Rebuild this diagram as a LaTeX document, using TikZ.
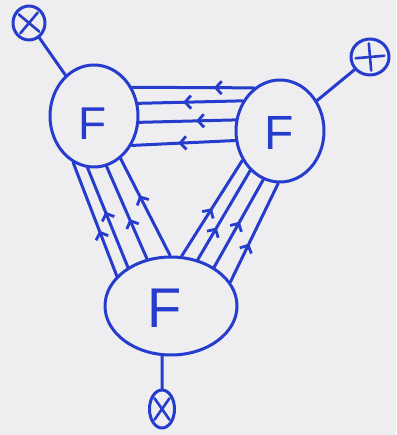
\documentclass[tikz,border=0pt]{standalone}
\usepackage{fontspec}
\setmainfont{Liberation Sans}
\usetikzlibrary{shapes.geometric,arrows.meta,decorations.markings,calc}
\definecolor{ink}{RGB}{38,60,205}
\definecolor{paper}{RGB}{238,238,241}
\begin{document}
\begin{tikzpicture}[x=1pt,y=-1pt,
  inkline/.style={draw=ink, line width=3pt, line cap=round, line join=round},
  fblob/.style={ellipse, inkline, inner sep=0pt},
  ftext/.style={text=ink, inner sep=0pt},
  xblob/.style={ellipse, inkline, inner sep=0pt},
  wire/.style={inkline},
  crossline/.style={draw=ink, line width=2.6pt, line cap=round},
  flow/.style={inkline, postaction={decorate, decoration={markings, mark=at position #1 with {\arrow{Straight Barb[color=ink,length=6pt,width=13pt,line width=2.8pt]}}}}},
]
\fill[paper] (0,0) rectangle (396,435);
\useasboundingbox (0,0) rectangle (396,435);

% main blobs
\node[fblob, minimum width=88pt, minimum height=102pt] (A) at (94,116) {};
\node[fblob, minimum width=88pt, minimum height=102pt] (B) at (280,131) {};
\node[fblob, minimum width=132pt, minimum height=98pt] (C) at (171,306) {};

\node[ftext, font=\fontsize{46}{46}\selectfont] (FA) at (93,124) {F};
\node[ftext, font=\fontsize{48}{48}\selectfont] (FB) at (279,133) {F};
\node[ftext, font=\fontsize{56}{56}\selectfont] (FC) at (165,308) {F};

% external legs
\node[xblob, minimum width=32pt, minimum height=34pt] (P1) at (29,23) {};
\node[xblob, minimum width=38pt, minimum height=36pt] (P2) at (370,57) {};
\node[xblob, minimum width=25pt, minimum height=38pt] (P3) at (162,409) {};

\draw[crossline] ($(P1.center)!0.75!(P1.50)$) -- ($(P1.center)!0.75!(P1.230)$);
\draw[crossline] ($(P1.center)!0.75!(P1.140)$) -- ($(P1.center)!0.75!(P1.320)$);
\draw[crossline] ($(P2.center)!0.7!(P2.5)$) -- ($(P2.center)!0.7!(P2.185)$);
\draw[crossline] ($(P2.center)!0.7!(P2.95)$) -- ($(P2.center)!0.7!(P2.275)$);
\draw[crossline] ($(P3.center)!0.75!(P3.55)$) -- ($(P3.center)!0.75!(P3.235)$);
\draw[crossline] ($(P3.center)!0.75!(P3.125)$) -- ($(P3.center)!0.75!(P3.305)$);

\draw[wire] (P1) -- (A);
\draw[wire] (P2) -- (B);
\draw[wire] (P3.north) -- (C.-100);

% B -> A
\draw[flow=0.33] (B.121.5) -- (A.37.9);
\draw[flow=0.57] (B.141.3) -- (A.16.8);
\draw[flow=0.41] (B.166.3) -- (A.-8);
\draw[flow=0.55] (B.192.1) -- (A.-38.2);

% C -> A
\draw[flow=0.40] (C.151.8) -- (A.-114.8);
\draw[flow=0.56] (C.138.5) -- (A.-97);
\draw[flow=0.43] (C.117.6) -- (A.-76.6);
\draw[flow=0.62] (C.91.1) -- (A.-58.2);

% C -> B
\draw[flow=0.50] (C.78.3) -- (B.-142.7);
\draw[flow=0.36] (C.60.5) -- (B.-127.6);
\draw[flow=0.52] (C.42.5) -- (B.-109.8);
\draw[flow=0.39] (C.22.1) -- (B.-92.2);
\end{tikzpicture}
\end{document}
